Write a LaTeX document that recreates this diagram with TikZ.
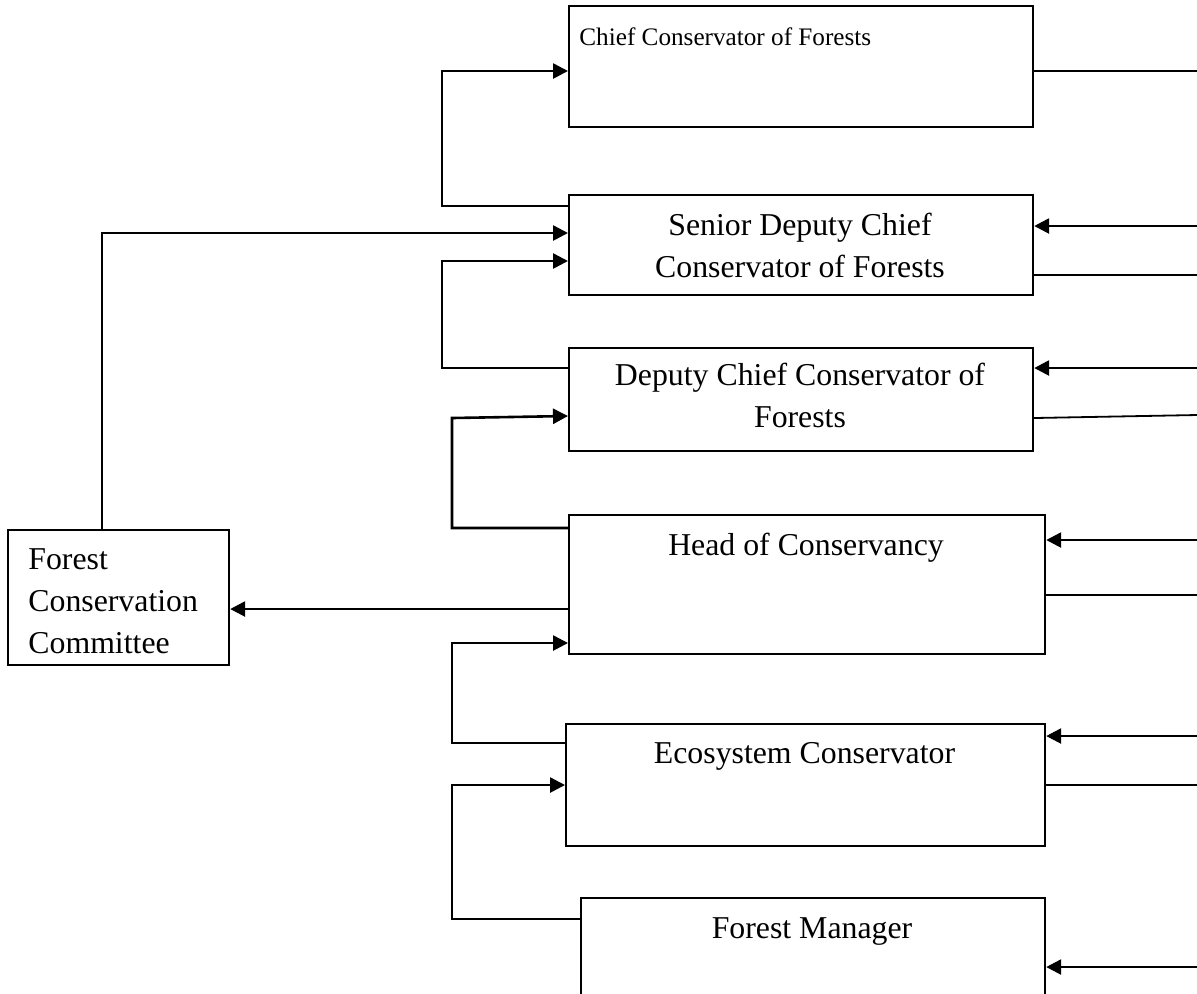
\documentclass[tikz,border=0pt]{standalone}
\usepackage{fontspec}
\setmainfont{Liberation Serif}
\usetikzlibrary{arrows.meta,positioning,calc}

\tikzset{
  post/.style={draw, line width=1.1pt, inner sep=0pt, anchor=north west},
  title/.style={inner sep=0pt, font=\fontsize{15.9}{21}\selectfont, align=center, anchor=base},
  feed/.style={->, line width=1.3pt},
  tie/.style={line width=0.9pt}
}

\begin{document}
\begin{tikzpicture}[x=0.5pt,y=-0.5pt,>={Triangle[length=7.5pt,width=7.5pt]}]
\useasboundingbox (0,0) rectangle (1197,993);
\clip (0,0) rectangle (1197,993);
% boxes
\node[post,minimum width=232pt,minimum height=60.5pt] (chief) at (568,5) {};
\node[post,minimum width=232pt,minimum height=50pt] (senior) at (568,194) {};
\node[post,minimum width=232pt,minimum height=51.5pt] (deputy) at (568,347) {};
\node[post,minimum width=238pt,minimum height=69.5pt] (head) at (568,514) {};
\node[post,minimum width=239.5pt,minimum height=61pt] (eco) at (565,723) {};
\node[post,minimum width=232pt,minimum height=60pt] (manager) at (580,897) {};
\node[post,minimum width=110.5pt,minimum height=67.5pt] (committee) at (7,529) {};
% texts (base = last line)
\node[title,font=\fontsize{12.6}{16}\selectfont,anchor=base west] (chieft) at (579,45) {Chief Conservator of Forests};
\node[title] (seniort) at (800,277) {Senior Deputy Chief\\Conservator of Forests};
\node[title] (deputyt) at (800,427) {Deputy Chief Conservator of\\Forests};
\node[title] (headt) at (806,555) {Head of Conservancy};
\node[title] (ecot) at (804.5,763) {Ecosystem Conservator};
\node[title] (managert) at (812,938) {Forest Manager};
\node[title,align=left,anchor=base west] (committeet) at (28,653) {Forest\\Conservation\\Committee};
% from the right
\foreach \n/\y in {senior/226,deputy/368,head/540,eco/736,manager/967}{
  \coordinate (in\n) at (1197,\y);
  \draw[feed] (in\n) -- (\n.east |- in\n);
}
% to the right
\foreach \n/\y in {chief/71,senior/275,head/595,eco/785}{
  \coordinate (out\n) at (1197,\y);
  \draw[tie] (\n.east |- out\n) -- (out\n);
}
\coordinate (outdeputy) at (1197,415);
\draw[tie] (deputy.east |- 0,418) -- (outdeputy);
% left side
\draw[feed] (senior.west |- 0,206) -- (442,206) -- (442,71) -- (chief.west |- 0,71);
\draw[feed] (committee.north -| 102,0) -- (102,233) -- (senior.west |- 0,233);
\draw[feed] (deputy.west |- 0,368) -- (442,368) -- (442,261) -- (senior.west |- 0,261);
\draw[feed] (head.west |- 0,528) -- (452,528) -- (452,418) -- (deputy.west |- 0,416);
\draw[feed] (head.west |- 0,609) -- (committee.east |- 0,609);
\draw[feed] (eco.west |- 0,743) -- (452,743) -- (452,643) -- (head.west |- 0,643);
\draw[feed] (manager.west |- 0,919) -- (452,919) -- (452,785) -- (eco.west |- 0,785);
\end{tikzpicture}
\end{document}
